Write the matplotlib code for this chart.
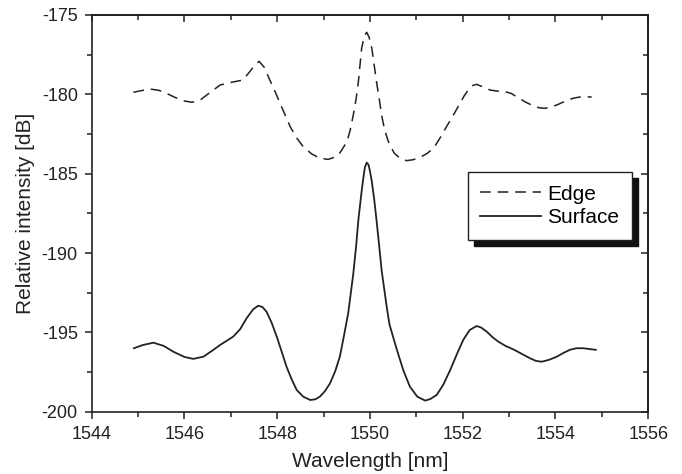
import matplotlib
matplotlib.use("Agg")
import matplotlib.pyplot as plt
from matplotlib.ticker import MultipleLocator

plt.rcParams["font.family"] = ["Liberation Sans", "DejaVu Sans"]
plt.rcParams["axes.unicode_minus"] = False

# Edge curve (dashed)
edge_wl = [1544.90, 1545.10, 1545.29, 1545.45, 1545.62, 1545.80, 1546.00, 1546.16,
           1546.32, 1546.50, 1546.77, 1547.00, 1547.26, 1547.40, 1547.52, 1547.61,
           1547.72, 1547.84, 1547.95, 1548.06, 1548.17, 1548.28, 1548.42, 1548.56,
           1548.74, 1548.92, 1549.10, 1549.25, 1549.35, 1549.50, 1549.57, 1549.64,
           1549.70, 1549.75, 1549.82, 1549.88, 1549.93, 1549.98, 1550.04, 1550.14,
           1550.20, 1550.25, 1550.32, 1550.40, 1550.52, 1550.65, 1550.79, 1550.93,
           1551.08, 1551.22, 1551.37, 1551.50, 1551.65, 1551.80, 1551.94, 1552.03,
           1552.12, 1552.21, 1552.30, 1552.45, 1552.59, 1552.75, 1552.91, 1553.05,
           1553.16, 1553.33, 1553.52, 1553.65, 1553.77, 1553.92, 1554.06, 1554.22,
           1554.38, 1554.50, 1554.60, 1554.78]
edge_db = [-179.87, -179.75, -179.68, -179.75, -179.95, -180.20, -180.42, -180.50,
           -180.40, -180.00, -179.41, -179.25, -179.10, -178.60, -178.15, -177.92,
           -178.30, -179.10, -179.80, -180.56, -181.30, -182.04, -182.75, -183.30,
           -183.75, -184.03, -184.10, -183.95, -183.70, -183.00, -182.30, -181.30,
           -180.30, -179.20, -177.10, -176.30, -176.09, -176.40, -177.10, -179.20,
           -180.30, -181.30, -182.30, -183.00, -183.70, -184.03, -184.18, -184.12,
           -183.97, -183.75, -183.40, -182.80, -182.04, -181.30, -180.57, -180.10,
           -179.73, -179.45, -179.37, -179.55, -179.73, -179.80, -179.83, -179.95,
           -180.15, -180.45, -180.73, -180.85, -180.88, -180.80, -180.63, -180.42,
           -180.25, -180.18, -180.15, -180.17]

# Surface curve (solid)
surf_wl = [1544.91, 1545.10, 1545.33, 1545.55, 1545.76, 1546.00, 1546.19, 1546.41,
           1546.60, 1546.77, 1547.05, 1547.20, 1547.34, 1547.48, 1547.59, 1547.68,
           1547.77, 1547.88, 1547.99, 1548.10, 1548.20, 1548.31, 1548.42, 1548.56,
           1548.71, 1548.82, 1548.92, 1549.03, 1549.14, 1549.25, 1549.35, 1549.44,
           1549.53, 1549.64, 1549.70, 1549.75, 1549.82, 1549.86, 1549.89, 1549.93,
           1549.97, 1550.00, 1550.04, 1550.09, 1550.14, 1550.20, 1550.25, 1550.36,
           1550.42, 1550.58, 1550.72, 1550.86, 1551.02, 1551.19, 1551.30, 1551.44,
           1551.58, 1551.73, 1551.87, 1552.01, 1552.15, 1552.30, 1552.40, 1552.52,
           1552.64, 1552.77, 1552.92, 1553.09, 1553.27, 1553.45, 1553.58, 1553.70,
           1553.86, 1554.03, 1554.17, 1554.31, 1554.45, 1554.60, 1554.73, 1554.87]
surf_db = [-196.00, -195.80, -195.65, -195.85, -196.22, -196.55, -196.67, -196.53,
           -196.15, -195.79, -195.27, -194.80, -194.11, -193.55, -193.32, -193.40,
           -193.70, -194.40, -195.27, -196.25, -197.16, -197.95, -198.63, -199.05,
           -199.26, -199.22, -199.05, -198.70, -198.20, -197.45, -196.53, -195.20,
           -193.80, -191.30, -189.60, -187.90, -186.10, -185.20, -184.60, -184.30,
           -184.45, -184.85, -185.50, -186.60, -187.90, -189.60, -191.07, -193.38,
           -194.50, -196.10, -197.40, -198.42, -199.05, -199.30, -199.20, -198.94,
           -198.30, -197.37, -196.40, -195.48, -194.85, -194.60, -194.70, -194.96,
           -195.30, -195.59, -195.85, -196.07, -196.35, -196.63, -196.80, -196.85,
           -196.73, -196.53, -196.30, -196.10, -196.00, -196.00, -196.05, -196.10]

fig = plt.figure(figsize=(6.82, 4.74), dpi=100)
ax = fig.add_axes([0.1345, 0.1314, 0.816, 0.837])

ax.plot(edge_wl, edge_db, color="#222222", linewidth=1.1,
        linestyle=(0, (7, 4.5)), label="Edge")
ax.plot(surf_wl, surf_db, color="#222222", linewidth=1.3, label="Surface")

ax.set_xlim(1544, 1556)
ax.set_ylim(-200, -175)
ax.xaxis.set_major_locator(MultipleLocator(2))
ax.xaxis.set_minor_locator(MultipleLocator(1))
ax.yaxis.set_major_locator(MultipleLocator(5))
ax.yaxis.set_minor_locator(MultipleLocator(2.5))

for s in ax.spines.values():
    s.set_linewidth(1.2)
    s.set_color("#222222")

ax.tick_params(which="both", direction="out", top=False, right=False,
               labelsize=13, colors="#222222", width=1.1, pad=5)
ax.tick_params(which="major", length=5)
ax.tick_params(which="minor", length=3.5)

# top and right ticks point inward
sec_x = ax.secondary_xaxis("top")
sec_x.xaxis.set_major_locator(MultipleLocator(2))
sec_x.xaxis.set_minor_locator(MultipleLocator(1))
sec_x.tick_params(which="both", direction="in", labeltop=False, width=1.1, colors="#222222")
sec_x.tick_params(which="major", length=5)
sec_x.tick_params(which="minor", length=3.5)
sec_x.spines["top"].set_linewidth(1.2)
sec_y = ax.secondary_yaxis("right")
sec_y.yaxis.set_major_locator(MultipleLocator(5))
sec_y.yaxis.set_minor_locator(MultipleLocator(2.5))
sec_y.tick_params(which="both", direction="in", labelright=False, width=1.1, colors="#222222")
sec_y.tick_params(which="major", length=5)
sec_y.tick_params(which="minor", length=3.5)
sec_y.spines["right"].set_linewidth(1.2)

ax.set_xlabel("Wavelength [nm]", fontsize=15, color="#222222", labelpad=7)
ax.set_ylabel("Relative intensity [dB]", fontsize=15, color="#222222", labelpad=5)

leg = ax.legend(loc="upper left", bbox_to_anchor=(0.676, 0.604), borderaxespad=0,
                fontsize=15, frameon=True, fancybox=False, framealpha=1,
                edgecolor="#222222", handlelength=2.9, handletextpad=0.3,
                borderpad=0.6, labelspacing=0.22,
                shadow={"color": "#111111", "alpha": 1, "ox": 4.3, "oy": -4.3})
leg.get_frame().set_linewidth(1.0)

fig.savefig("out.png", dpi=100)
